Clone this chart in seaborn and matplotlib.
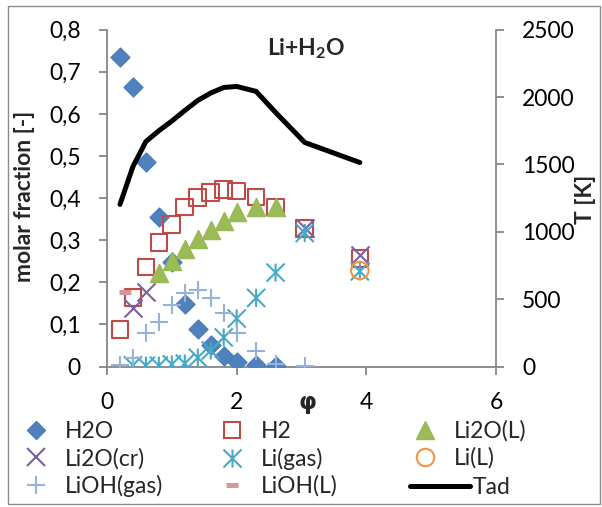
import numpy as np
import matplotlib
matplotlib.use("Agg")
import matplotlib.pyplot as plt
import seaborn as sns
from matplotlib.lines import Line2D
from matplotlib.path import Path
from matplotlib.patches import Rectangle

sns.set_style("white")
plt.rcParams['font.family'] = ['Lato', 'DejaVu Sans']
plt.rcParams['mathtext.fontset'] = 'custom'
plt.rcParams['mathtext.rm'] = 'Lato'
plt.rcParams['mathtext.bf'] = 'Lato:bold'

# equivalence ratio grid of the equilibrium calculations
phi = [0.2, 0.4, 0.6, 0.8, 1.0, 1.2, 1.4, 1.6, 1.8, 2.0, 2.3, 2.6, 3.05, 3.9]

# molar fractions of the products
h2o = [0.736, 0.664, 0.486, 0.355, 0.248, 0.148, 0.090, 0.050, 0.026, 0.010, 0.004, 0.002]
h2 = [0.088, 0.164, 0.236, 0.295, 0.338, 0.379, 0.402, 0.414, 0.420, 0.417, 0.403, 0.379, 0.328, 0.257]
li2o_l = [0.222, 0.250, 0.280, 0.303, 0.324, 0.346, 0.367, 0.380, 0.380]
li2o_cr_phi = [0.4, 0.6, 3.05, 3.9]
li2o_cr = [0.140, 0.176, 0.330, 0.264]
li_gas = [0.003, 0.002, 0.002, 0.005, 0.007, 0.021, 0.038, 0.069, 0.114, 0.163, 0.223, 0.317, 0.226]
li_l_phi = [3.9]
li_l = [0.228]
lioh_gas = [0.003, 0.020, 0.079, 0.105, 0.145, 0.174, 0.181, 0.162, 0.126, 0.079, 0.038, 0.007, 0.002]
lioh_l_phi = [0.27]
lioh_l = [0.176]

# adiabatic flame temperature [K]
t_ad = [1203, 1484, 1670, 1750, 1822, 1900, 1975, 2030, 2071, 2079, 2042, 1886, 1663, 1514]

x_ticks = [0, 2, 4, 6]
y_ticks = [0, 0.1, 0.2, 0.3, 0.4, 0.5, 0.6, 0.7, 0.8]
y_tick_labels = ["0", "0,1", "0,2", "0,3", "0,4", "0,5", "0,6", "0,7", "0,8"]
t_ticks = [0, 500, 1000, 1500, 2000, 2500]

# six-armed "star" marker: an x with a vertical bar
star = Path([(-1, -1), (1, 1), (-1, 1), (1, -1), (0, -1), (0, 1)],
            [Path.MOVETO, Path.LINETO] * 3)

W, H = 602, 507
fig = plt.figure(figsize=(W / 100, H / 100), dpi=100)
fig.patch.set_facecolor("white")
ax = fig.add_axes([107 / W, 1 - 366.5 / H, 389 / W, (366.5 - 29.7) / H])
ax2 = ax.twinx()

GRAY = "#868686"
FS = 16.5

series = [
    # name, x, y, marker, size(pt), face, edge, lw
    ("H2O", phi[:len(h2o)], h2o, "D", 9.6, "#4F81BD", "#4A7EBB", 1.0),
    ("H2", phi, h2, "s", 12.0, "none", "#BE4B48", 1.5),
    ("Li2O(L)", phi[3:3 + len(li2o_l)], li2o_l, "^", 13.0, "#9BBB59", "#98B954", 1.0),
    ("Li2O(cr)", li2o_cr_phi, li2o_cr, "x", 13.0, "#7D60A0", "#7D60A0", 1.5),
    ("Li(gas)", phi[1:], li_gas, star, 13.0, "none", "#46AAC5", 1.5),
    ("Li(L)", li_l_phi, li_l, "o", 12.6, "none", "#F69240", 1.5),
    ("LiOH(gas)", phi[:len(lioh_gas)], lioh_gas, "+", 12.5, "#95B3D7", "#95B3D7", 1.5),
    ("LiOH(L)", lioh_l_phi, lioh_l, "_", 8.0, "#D99694", "#D99694", 3.6),
]

handles = {}
for i, (name, xs, ys, mk, size, fc, ec, lw) in enumerate(series):
    kw = dict(x=xs, y=ys, marker=mk, s=size ** 2, ax=ax, legend=False,
              linewidth=lw, zorder=3 + i)
    if mk in ("x", "+", "_"):
        kw["color"] = ec
    else:
        kw.update(color=ec, facecolor=fc, edgecolor=ec)
    sns.scatterplot(**kw)
    handles[name] = Line2D([], [], linestyle="none", marker=mk, markersize=size,
                           markerfacecolor=fc, markeredgecolor=ec, markeredgewidth=lw)

sns.lineplot(x=phi, y=t_ad, ax=ax2, color="black", linewidth=3.6,
             solid_joinstyle="round", solid_capstyle="round")
handles["Tad"] = Line2D([], [], color="black", linewidth=3.6)

# axes, ticks, spines
ax.set_xlim(0, 6)
ax.set_ylim(0, 0.8)
ax2.set_ylim(0, 2500)
ax.set_xticks(x_ticks)
ax.set_xticklabels([str(v) for v in x_ticks])
ax.set_yticks(y_ticks)
ax.set_yticklabels(y_tick_labels)
ax2.set_yticks(t_ticks)
ax2.set_yticklabels([str(v) for v in t_ticks])
ax.set_xlabel("")
ax.set_ylabel("")
ax2.set_ylabel("")

for a in (ax, ax2):
    a.patch.set_visible(False)
    for sp in a.spines.values():
        sp.set_visible(False)
ax.spines["left"].set_visible(True)
ax.spines["bottom"].set_visible(True)
ax2.spines["right"].set_visible(True)
for sp in (ax.spines["left"], ax.spines["bottom"], ax2.spines["right"]):
    sp.set_color(GRAY)
    sp.set_linewidth(1.3)

ax.tick_params(axis="y", left=True, direction="out", length=5.8, width=1.3,
               color=GRAY, labelsize=FS, pad=13, labelcolor="black")
ax.tick_params(axis="x", bottom=True, direction="out", length=5.8, width=1.3,
               color=GRAY, labelsize=FS, pad=12.5, labelcolor="black")
ax2.tick_params(axis="y", right=True, direction="out", length=5.8, width=1.3,
                color=GRAY, labelsize=FS, pad=13, labelcolor="black")

# titles and axis labels
ax.text(0.513, 0.945, r"Li+H$_{\mathbf{2}}$O", transform=ax.transAxes,
        ha="center", va="center", fontsize=FS, fontweight="bold")
fig.text(25 / W, 1 - 196 / H, "molar fraction [-]", rotation=90,
         ha="center", va="center", fontsize=FS, fontweight="bold")
fig.text(586 / W, 1 - 199 / H, "T [K]", rotation=90,
         ha="center", va="center", fontsize=FS, fontweight="bold")
fig.text(307 / W, 1 - 402 / H, "φ", ha="center", va="center",
         fontsize=FS, fontweight="bold", family=["DejaVu Sans"])

# legend: marker entries in columns, the temperature line on its own
leg_kw = dict(loc="center left", frameon=False, borderpad=0, borderaxespad=0,
              labelspacing=0.25, fontsize=FS)
columns = [
    (["H2O", "Li2O(cr)", "LiOH(gas)"], 13, 459),
    (["H2", "Li(gas)", "LiOH(L)"], 209, 459),
    (["Li2O(L)", "Li(L)"], 402, 444.5),
]
for names, x0, yc in columns:
    fig.legend(handles=[handles[n] for n in names], labels=names,
               bbox_to_anchor=(x0 / W, 1 - yc / H),
               handlelength=2.0, handletextpad=0.27, **leg_kw)
fig.legend(handles=[handles["Tad"]], labels=["Tad"],
           bbox_to_anchor=(410 / W, 1 - 488 / H),
           handlelength=2.62, handletextpad=0.12, **leg_kw)

# chart area border
fig.patches.append(Rectangle((8 / W, 1 - 504 / H), (600 - 8) / W, (504 - 6) / H,
                             transform=fig.transFigure, fill=False,
                             edgecolor="#8c8c8c", linewidth=1.0))

fig.savefig("out.png", dpi=100)
